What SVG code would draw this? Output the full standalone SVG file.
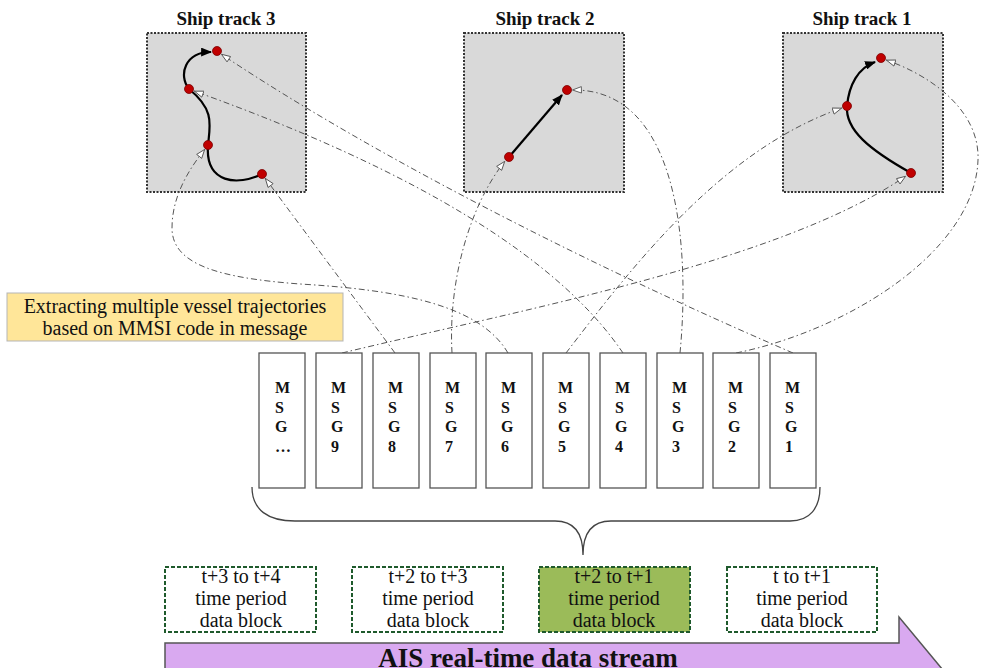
<svg xmlns="http://www.w3.org/2000/svg" width="983" height="668" viewBox="0 0 983 668">
  <style>
    .title { font-family: "Liberation Serif", "Times New Roman", serif; font-weight: bold; font-size: 19px; fill: #111; text-anchor: middle; }
    .track { fill: #d9d9d9; stroke: #333; stroke-width: 2; stroke-dasharray: 2 1.5; }
    .dot { fill: #c00000; stroke: #7a0000; stroke-width: 0.8; }
    .move { fill: none; stroke: #000; stroke-width: 2.2; }
    .link { fill: none; stroke: #555; stroke-width: 1; stroke-dasharray: 6 3 1.5 3; }
    .msg { fill: #fff; stroke: #555; stroke-width: 1.3; }
    .msgtxt { font-family: "Liberation Serif", "Times New Roman", serif; font-weight: bold; font-size: 16px; fill: #111; }
    .block { stroke: #1f5a2c; stroke-width: 2; stroke-dasharray: 4 2; }
    .btxt { font-family: "Liberation Serif", "Times New Roman", serif; font-size: 20px; fill: #111; text-anchor: middle; }
    .note { font-family: "Liberation Serif", "Times New Roman", serif; font-size: 20px; fill: #111; text-anchor: middle; }
  </style>
  <defs>
    <marker id="open" viewBox="0 0 10 8" refX="10" refY="4" markerWidth="10" markerHeight="8" orient="auto" markerUnits="userSpaceOnUse">
      <path d="M0.6,0.8 L9.5,4 L0.6,7.2 Z" fill="#fff" stroke="#555" stroke-width="0.9"/>
    </marker>
    <marker id="solid" viewBox="0 0 10 8" refX="9" refY="4" markerWidth="11" markerHeight="9" orient="auto" markerUnits="userSpaceOnUse">
      <path d="M0,0 L10,4 L0,8 Z" fill="#000"/>
    </marker>
  </defs>

  <!-- Ship track 3 -->
  <g id="track3">
    <text class="title" x="226" y="25">Ship track 3</text>
    <rect class="track" x="147" y="33" width="159" height="159"/>
    <path class="move" d="M262,174 C238,186 205,184 208,145 C210,125 215,110 189,89 C178,75 185,52 211,52" marker-end="url(#solid)"/>
    <circle class="dot" cx="217" cy="51" r="4.5"/>
    <circle class="dot" cx="189" cy="89" r="4.5"/>
    <circle class="dot" cx="208" cy="145" r="4.5"/>
    <circle class="dot" cx="262" cy="174" r="4.5"/>
  </g>

  <!-- Ship track 2 -->
  <g id="track2">
    <text class="title" x="545" y="25">Ship track 2</text>
    <rect class="track" x="464" y="33" width="160" height="159"/>
    <path class="move" d="M509,157 L562,95" marker-end="url(#solid)"/>
    <circle class="dot" cx="567" cy="90" r="4.5"/>
    <circle class="dot" cx="509" cy="157" r="4.5"/>
  </g>

  <!-- Ship track 1 -->
  <g id="track1">
    <text class="title" x="862" y="25">Ship track 1</text>
    <rect class="track" x="783" y="33" width="160" height="159"/>
    <path class="move" d="M911,173 C870,150 845,130 847,106 C849,85 858,68 875,62" marker-end="url(#solid)"/>
    <circle class="dot" cx="881" cy="58" r="4.5"/>
    <circle class="dot" cx="847" cy="106" r="4.5"/>
    <circle class="dot" cx="911" cy="173" r="4.5"/>
  </g>

  <!-- message-to-track connectors -->
  <g id="connectors">
    <path class="link" d="M342,353 C520,310 780,262 906,176" marker-end="url(#open)"/>
    <path class="link" d="M395,353 L265,178" marker-end="url(#open)"/>
    <path class="link" d="M452,353 C448,280 470,205 505,161" marker-end="url(#open)"/>
    <path class="link" d="M508,353 C480,305 400,290 300,284 C220,278 172,265 172,228 C172,195 190,168 205,149" marker-end="url(#open)"/>
    <path class="link" d="M566,353 C630,270 720,150 842,108" marker-end="url(#open)"/>
    <path class="link" d="M623,353 C560,260 420,172 194,91" marker-end="url(#open)"/>
    <path class="link" d="M680,353 C690,250 680,88 572,90" marker-end="url(#open)"/>
    <path class="link" d="M736,353 C850,330 975,250 978,160 C980,110 930,75 886,60" marker-end="url(#open)"/>
    <path class="link" d="M793,353 C600,270 380,160 221,54" marker-end="url(#open)"/>
  </g>

  <!-- note -->
  <g id="note">
    <rect x="7" y="293" width="336" height="48" fill="#ffe699" stroke="#b5b5b5" stroke-width="1"/>
    <text class="note" x="175" y="313">Extracting multiple vessel trajectories</text>
    <text class="note" x="175" y="335">based on MMSI code in message</text>
  </g>

  <!-- messages -->
  <g id="msg-more">
    <rect class="msg" x="259" y="353" width="46" height="135"/>
    <text class="msgtxt" x="275" y="393">M</text><text class="msgtxt" x="275" y="413">S</text><text class="msgtxt" x="275" y="432">G</text><text class="msgtxt" x="275" y="452">…</text>
  </g>
  <g id="msg9">
    <rect class="msg" x="316" y="353" width="46" height="135"/>
    <text class="msgtxt" x="331" y="393">M</text><text class="msgtxt" x="331" y="413">S</text><text class="msgtxt" x="331" y="432">G</text><text class="msgtxt" x="331" y="452">9</text>
  </g>
  <g id="msg8">
    <rect class="msg" x="373" y="353" width="46" height="135"/>
    <text class="msgtxt" x="388" y="393">M</text><text class="msgtxt" x="388" y="413">S</text><text class="msgtxt" x="388" y="432">G</text><text class="msgtxt" x="388" y="452">8</text>
  </g>
  <g id="msg7">
    <rect class="msg" x="430" y="353" width="46" height="135"/>
    <text class="msgtxt" x="445" y="393">M</text><text class="msgtxt" x="445" y="413">S</text><text class="msgtxt" x="445" y="432">G</text><text class="msgtxt" x="445" y="452">7</text>
  </g>
  <g id="msg6">
    <rect class="msg" x="486" y="353" width="46" height="135"/>
    <text class="msgtxt" x="501" y="393">M</text><text class="msgtxt" x="501" y="413">S</text><text class="msgtxt" x="501" y="432">G</text><text class="msgtxt" x="501" y="452">6</text>
  </g>
  <g id="msg5">
    <rect class="msg" x="543" y="353" width="46" height="135"/>
    <text class="msgtxt" x="558" y="393">M</text><text class="msgtxt" x="558" y="413">S</text><text class="msgtxt" x="558" y="432">G</text><text class="msgtxt" x="558" y="452">5</text>
  </g>
  <g id="msg4">
    <rect class="msg" x="600" y="353" width="46" height="135"/>
    <text class="msgtxt" x="615" y="393">M</text><text class="msgtxt" x="615" y="413">S</text><text class="msgtxt" x="615" y="432">G</text><text class="msgtxt" x="615" y="452">4</text>
  </g>
  <g id="msg3">
    <rect class="msg" x="657" y="353" width="46" height="135"/>
    <text class="msgtxt" x="672" y="393">M</text><text class="msgtxt" x="672" y="413">S</text><text class="msgtxt" x="672" y="432">G</text><text class="msgtxt" x="672" y="452">3</text>
  </g>
  <g id="msg2">
    <rect class="msg" x="713" y="353" width="46" height="135"/>
    <text class="msgtxt" x="728" y="393">M</text><text class="msgtxt" x="728" y="413">S</text><text class="msgtxt" x="728" y="432">G</text><text class="msgtxt" x="728" y="452">2</text>
  </g>
  <g id="msg1">
    <rect class="msg" x="770" y="353" width="46" height="135"/>
    <text class="msgtxt" x="785" y="393">M</text><text class="msgtxt" x="785" y="413">S</text><text class="msgtxt" x="785" y="432">G</text><text class="msgtxt" x="785" y="452">1</text>
  </g>

  <!-- brace grouping the messages -->
  <g id="brace">
    <path d="M252,487 C252,510 268,521 295,521 L555,521 C572,521 583,530 583,555 C583,530 594,521 611,521 L790,521 C810,521 820,508 820,487" fill="none" stroke="#444" stroke-width="1.3"/>
  </g>

  <!-- time period data blocks -->
  <g id="block-t3">
    <rect class="block" x="165" y="567" width="151" height="65" fill="#fff"/>
    <text class="btxt" x="241" y="583">t+3 to t+4</text>
    <text class="btxt" x="241" y="605">time period</text>
    <text class="btxt" x="241" y="627">data block</text>
  </g>
  <g id="block-t2">
    <rect class="block" x="352" y="567" width="151" height="65" fill="#fff"/>
    <text class="btxt" x="428" y="583">t+2 to t+3</text>
    <text class="btxt" x="428" y="605">time period</text>
    <text class="btxt" x="428" y="627">data block</text>
  </g>
  <g id="block-t1">
    <rect class="block" x="539" y="567" width="151" height="65" fill="#9bbb59"/>
    <text class="btxt" x="614" y="583">t+2 to t+1</text>
    <text class="btxt" x="614" y="605">time period</text>
    <text class="btxt" x="614" y="627">data block</text>
  </g>
  <g id="block-t0">
    <rect class="block" x="727" y="567" width="150" height="65" fill="#fff"/>
    <text class="btxt" x="802" y="583">t to t+1</text>
    <text class="btxt" x="802" y="605">time period</text>
    <text class="btxt" x="802" y="627">data block</text>
  </g>

  <!-- stream arrow -->
  <g id="stream">
    <polygon points="165,643 899,643 899,617 962,693 165,693" fill="#d9a9f0" stroke="#555" stroke-width="1.5"/>
    <text x="528" y="667" font-family="'Liberation Serif', 'Times New Roman', serif" font-weight="bold" font-size="27" fill="#111" text-anchor="middle">AIS real-time data stream</text>
  </g>
</svg>
